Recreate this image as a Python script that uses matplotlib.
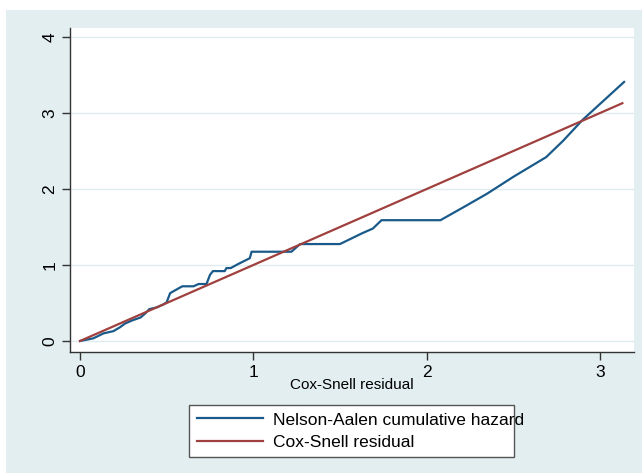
import numpy as np
import matplotlib.pyplot as plt
from matplotlib.patches import Rectangle

plt.rcParams['font.family'] = ['Liberation Sans', 'DejaVu Sans']

# Nelson-Aalen cumulative hazard vs Cox-Snell residual
na_x = [0.0, 0.077, 0.135, 0.193, 0.23, 0.26, 0.30, 0.35, 0.38, 0.40, 0.44, 0.48, 0.50,
        0.52, 0.59, 0.655, 0.684, 0.73, 0.75, 0.767, 0.835, 0.845, 0.87, 0.91, 0.98,
        0.99, 1.22, 1.27, 1.50, 1.63, 1.69, 1.74, 2.08, 2.22, 2.35, 2.50, 2.69, 2.79,
        2.90, 3.14]
na_y = [0.0, 0.035, 0.10, 0.13, 0.18, 0.23, 0.27, 0.31, 0.37, 0.42, 0.44, 0.48, 0.51,
        0.63, 0.72, 0.72, 0.75, 0.75, 0.87, 0.92, 0.92, 0.96, 0.96, 1.01, 1.09,
        1.175, 1.175, 1.276, 1.276, 1.42, 1.48, 1.59, 1.59, 1.77, 1.94, 2.16, 2.42, 2.64,
        2.91, 3.41]
cs_x = [0.0, 3.13]
cs_y = [0.0, 3.13]

xticks = [0, 1, 2, 3]
yticks = [0, 1, 2, 3, 4]

bg = '#e3eef0'
fig = plt.figure(figsize=(6.42, 4.73), dpi=100)
fig.patch.set_facecolor('white')
fig.patches.append(Rectangle((6 / 642, 0), 1, 1 - 10 / 473, transform=fig.transFigure,
                             facecolor=bg, edgecolor='none', zorder=-10))

ax = fig.add_axes([0.109, 0.2558, 0.8785, 0.685])
ax.set_facecolor('white')
for y in yticks:
    ax.axhline(y, color='#e0ecee', lw=1.0, zorder=0)

ax.plot(na_x, na_y, color='#1a5a8a', lw=1.6, label='Nelson-Aalen cumulative hazard')
ax.plot(cs_x, cs_y, color='#a0403e', lw=1.6, label='Cox-Snell residual')

ax.set_xlim(-0.058, 3.197)
ax.set_ylim(-0.145, 4.12)
ax.set_xticks(xticks)
ax.set_yticks(yticks)
ax.tick_params(axis='both', length=6, width=1, color='#333333', labelsize=12.5, pad=3)
for lab in ax.get_yticklabels():
    lab.set_rotation(90)
    lab.set_va('center')
for s in ['top', 'right']:
    ax.spines[s].set_visible(False)
for s in ['left', 'bottom']:
    ax.spines[s].set_color('#333333')
    ax.spines[s].set_linewidth(1.0)

ax.set_xlabel('Cox-Snell residual', fontsize=11, labelpad=-1)

leg = fig.legend(loc='center', bbox_to_anchor=(189 / 642, 1 - 458 / 473, 325 / 642, 54 / 473),
                 mode='expand', borderaxespad=0, fontsize=12.5, frameon=True, fancybox=False,
                 framealpha=1, handlelength=3.8, handletextpad=0.6, borderpad=0.45,
                 labelspacing=0.4)
leg.get_frame().set_edgecolor('#555555')
leg.get_frame().set_facecolor('white')
leg.get_frame().set_linewidth(1.0)

fig.savefig('out.png', dpi=100)
